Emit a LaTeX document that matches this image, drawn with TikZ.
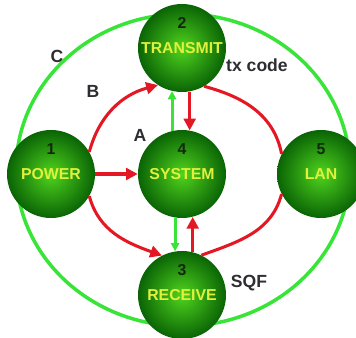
\documentclass[tikz,border=0pt]{standalone}
\usepackage{fontspec}
\setmainfont{Liberation Sans}
\usepackage{xcolor}
\usepackage{tikz}
\usetikzlibrary{positioning,arrows.meta,shapes.geometric}

\definecolor{ballin}{RGB}{80,212,30}
\definecolor{ballout}{RGB}{10,100,5}
\definecolor{nametxt}{RGB}{225,240,60}
\definecolor{numtxt}{RGB}{20,40,15}
\definecolor{sidetxt}{RGB}{45,45,50}
\definecolor{ringgreen}{RGB}{55,228,55}
\definecolor{linkred}{RGB}{228,24,36}

\begin{document}
\begin{tikzpicture}[>=Stealth,
    ball/.style={circle, minimum size=2.64cm, inner sep=0pt,
                 shading=radial, inner color=ballin, outer color=ballout,
                 text=nametxt, font=\fontsize{13.5}{15}\selectfont\bfseries},
    num/.style={text=numtxt, font=\fontsize{13.5}{15}\selectfont\bfseries,
                yshift=0.75cm},
    side/.style={text=sidetxt, font=\fontsize{15}{17}\selectfont\bfseries},
    redlink/.style={draw=linkred, line width=2.6pt},
    redarrow/.style={redlink, -{Triangle[length=10pt,width=10pt]}},
    greenarrow/.style={draw=ringgreen, line width=2.6pt,
                       -{Triangle[length=7pt,width=7pt]}}]
  \useasboundingbox (0,0) rectangle (10.68,10.14);

  % outer loop C, behind the balls
  \coordinate (mid) at (5.49,5.04);
  \draw[ringgreen, line width=3pt] (mid) ellipse [x radius=5.01cm, y radius=4.68cm];

  \node[ball, label={[num]center:1}] (power)    at (1.53,4.92) {POWER};
  \node[ball, label={[num]center:4}] (system)   at (5.46,4.92) {SYSTEM};
  \node[ball, label={[num]center:5}] (lan)      at (9.63,4.92) {LAN};
  \node[ball, label={[num]center:2}] (transmit) at (5.46,8.70) {TRANSMIT};
  \node[ball, label={[num]center:3}] (receive)  at (5.46,1.29) {RECEIVE};

  \node[side] (c)  at (1.71,8.46) {C};
  \node[side] (b)  at (2.79,7.41) {B};
  \node[side] (a)  at (4.20,6.09) {A};
  \node[side] (tx) at (7.71,8.19) {tx code};
  \node[side] (sqf) at (7.47,1.65) {SQF};

  % red ring B
  \draw[redarrow] (power.30) to[out=75,in=195] (transmit.237);
  \draw[redlink] (transmit.300) to[out=-15,in=101] (lan.153);
  \draw[redarrow] (power.-30) to[out=-75,in=160] (receive.117);
  \draw[redlink] (lan.207) to[out=255,in=20] (receive.64);

  % straight links A
  \draw[redarrow] (power) -- (system);
  \draw[greenarrow] (system.103) -- (transmit.257);
  \draw[redarrow] (transmit.280) -- (system.80);
  \draw[greenarrow] (system.261) -- (receive.99);
  \draw[redarrow] (receive.76) -- (system.284);
\end{tikzpicture}
\end{document}
